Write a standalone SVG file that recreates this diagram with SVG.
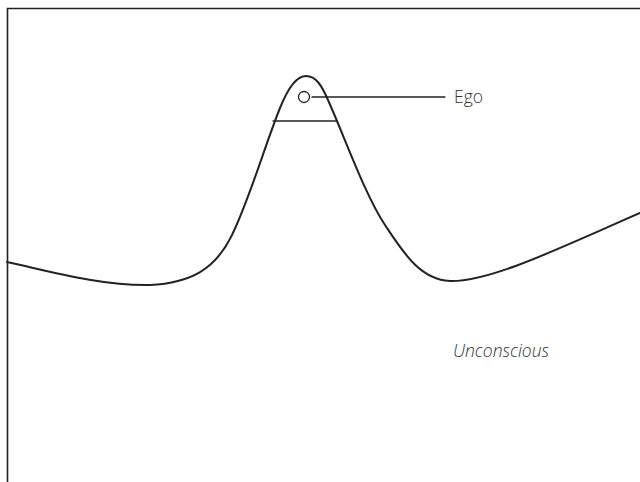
<svg xmlns="http://www.w3.org/2000/svg" width="640" height="482" viewBox="0 0 640 482">
<style>
.line{fill:none;stroke:#222;stroke-linecap:round}
.lbl{font-family:"Open Sans","Liberation Sans",sans-serif;font-size:17.5px;fill:#333;font-weight:300}
</style>
<rect width="640" height="482" fill="#fff"/>
<g id="frame">
<path class="line" d="M7.5,482 V8.5 H640" stroke-width="1.6" stroke-linecap="butt"/>
</g>
<g id="terrain">
<path class="line" stroke-width="2" d="M7,262 C45,270 100,286 150,285 C190,283 215,270 232,235 C250,198 265,145 280,108 C288,88 297,76 306,76 C316,76 322,86 328,100 C345,138 365,195 385,225 C403,252 420,280 450,281 C490,282 560,248 640,213"/>
<line class="line" x1="273" y1="121" x2="337" y2="121" stroke-width="1.3"/>
</g>
<g id="ego">
<circle cx="304" cy="97" r="5.5" fill="none" stroke="#222" stroke-width="1.3"/>
<text class="lbl" x="454" y="103">Ego</text>
</g>
<g id="connectors">
<line class="line" x1="312" y1="97" x2="445" y2="97" stroke-width="1.3"/>
</g>
<g id="unconscious">
<text class="lbl" x="453" y="357" font-size="17" font-style="italic">Unconscious</text>
</g>
</svg>
